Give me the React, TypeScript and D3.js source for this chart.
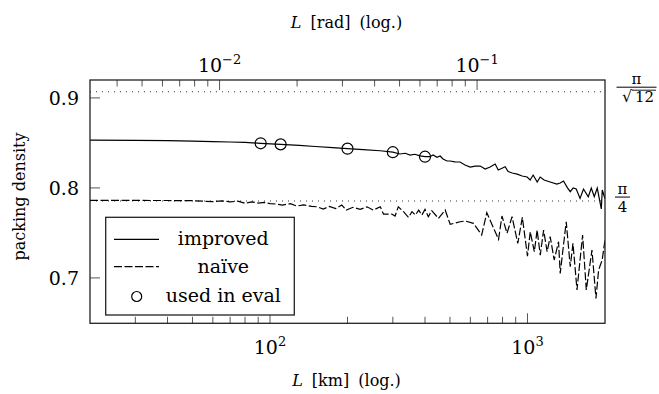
import React from 'react';
import * as d3 from 'd3';

// distance in km and measured packing density
const improvedKm = [20, 30, 40, 50, 60, 70, 80, 92, 110, 130, 150, 175, 200, 230, 268, 300, 320, 335, 350, 365, 383, 400, 418, 430, 445, 458, 470, 487, 500, 523, 547, 572, 599, 626, 655, 685, 716, 749, 770, 800, 819, 841, 872, 912, 953, 997, 1024, 1052, 1091, 1120, 1160, 1225, 1300, 1340, 1380, 1430, 1466, 1505, 1546, 1600, 1650, 1722, 1769, 1817, 1866, 1935, 1952, 2000];
const improvedVal = [0.853, 0.8528, 0.8525, 0.852, 0.8515, 0.851, 0.8505, 0.8496, 0.8484, 0.8472, 0.846, 0.8448, 0.8436, 0.8425, 0.8413, 0.8397, 0.8377, 0.8385, 0.8365, 0.8374, 0.8356, 0.8347, 0.8347, 0.8366, 0.834, 0.8355, 0.8321, 0.8299, 0.8299, 0.829, 0.8288, 0.8254, 0.8232, 0.8243, 0.8243, 0.821, 0.8232, 0.8266, 0.8199, 0.8221, 0.8236, 0.8183, 0.8166, 0.8153, 0.8132, 0.8121, 0.8088, 0.8143, 0.8066, 0.8121, 0.8088, 0.8066, 0.8043, 0.8055, 0.8077, 0.8, 0.7958, 0.8, 0.7988, 0.7884, 0.7988, 0.7902, 0.7999, 0.7902, 0.7999, 0.7766, 0.7977, 0.788];

const naiveKm = [20, 30, 40, 50, 60, 65, 70, 75, 80, 85, 90, 95, 100, 106, 112, 120, 127, 135, 145, 152, 161, 170, 180, 190, 198, 210, 224, 238, 252, 268, 276, 297, 306, 315, 330, 345, 356, 367, 378, 389, 400, 412, 425, 451, 479, 501, 548, 573, 617, 664, 695, 772, 796, 833, 871, 917, 955, 1000, 1025, 1063, 1090, 1121, 1155, 1192, 1225, 1270, 1320, 1340, 1414, 1466, 1502, 1557, 1637, 1692, 1780, 1845, 1889, 1950, 2000];
const naiveVal = [0.7862, 0.7861, 0.786, 0.7858, 0.7847, 0.7856, 0.7845, 0.7853, 0.7829, 0.7845, 0.7832, 0.784, 0.7825, 0.7821, 0.781, 0.7825, 0.7799, 0.7812, 0.7795, 0.7791, 0.7766, 0.7795, 0.777, 0.781, 0.7754, 0.7785, 0.7762, 0.779, 0.7754, 0.7791, 0.771, 0.771, 0.7688, 0.7791, 0.7736, 0.7673, 0.7736, 0.7699, 0.7754, 0.7699, 0.7762, 0.768, 0.7747, 0.7662, 0.7754, 0.7596, 0.7624, 0.7632, 0.7607, 0.7477, 0.7724, 0.7429, 0.7688, 0.7496, 0.768, 0.7384, 0.7673, 0.7243, 0.7513, 0.7291, 0.7532, 0.7254, 0.7532, 0.7291, 0.7458, 0.7199, 0.7402, 0.7051, 0.7624, 0.7124, 0.7384, 0.6866, 0.7477, 0.6866, 0.731, 0.6773, 0.7088, 0.7199, 0.7421];

const evalKm = [92, 110, 200, 300, 400];
const evalVal = [0.8496, 0.8484, 0.8436, 0.8397, 0.8347];

const yTicks = [0.7, 0.8, 0.9];
const kmMajor = [100, 1000];
const kmMinor = [30, 40, 50, 60, 70, 80, 90, 200, 300, 400, 500, 600, 700, 800, 900];
const radMajor = [0.01, 0.1];
const radMinor = [0.004, 0.005, 0.006, 0.007, 0.008, 0.009, 0.02, 0.03, 0.04, 0.05, 0.06, 0.07, 0.08, 0.09];
const earthRadius = 6371;
const hexDensity = Math.PI / Math.sqrt(12);
const squareDensity = Math.PI / 4;

const FONT = "'DejaVu Serif', 'Liberation Serif', serif";

const PowerLabel = ({ x, y, exp }: { x: number; y: number; exp: number }) => (
  <text x={x} y={y} textAnchor="middle" style={{ fontFamily: FONT, fontSize: 19 }}>
    10
    <tspan dy={-8} style={{ fontSize: 13 }}>{exp < 0 ? '\u2212' + Math.abs(exp) : exp}</tspan>
  </text>
);

export default function App() {
  const width = 659;
  const height = 394;
  const left = 90, right = 605, top = 80, bottom = 323.3;

  const x = d3.scaleLog().domain([20, 2000]).range([left, right]);
  const xTop = d3.scaleLog().domain([20 / earthRadius, 2000 / earthRadius]).range([left, right]);
  const y = d3.scaleLinear().domain([0.6496, 0.9199]).range([bottom, top]);

  const line = d3.line<[number, number]>()
    .x(d => x(d[0]))
    .y(d => y(d[1]));

  const improved = improvedKm.map((k, i) => [k, improvedVal[i]] as [number, number]);
  const naive = naiveKm.map((k, i) => [k, naiveVal[i]] as [number, number]);

  const tickColor = '#555';
  const txt = (size: number, extra: React.CSSProperties = {}) => ({ fontFamily: FONT, fontSize: size, ...extra });

  return (
    <svg width={width} height={height} style={{ position: 'absolute', left: 0, top: 0, background: '#fff' }}>
      <defs>
        <clipPath id="plot">
          <rect x={left} y={top} width={right - left} height={bottom - top} />
        </clipPath>
      </defs>

      {/* reference densities */}
      {[hexDensity, squareDensity].map(v => (
        <line key={v} x1={left} x2={right} y1={y(v)} y2={y(v)}
          stroke="#333" strokeWidth={1.1} strokeDasharray="1 5" />
      ))}

      <g clipPath="url(#plot)">
        <path d={line(improved) ?? ''} fill="none" stroke="#000" strokeWidth={1.2} />
        <path d={line(naive) ?? ''} fill="none" stroke="#000" strokeWidth={1.2} strokeDasharray="8 2.5" />
        {evalKm.map((k, i) => (
          <circle key={k} cx={x(k)} cy={y(evalVal[i])} r={5.5} fill="none" stroke="#000" strokeWidth={1.2} />
        ))}
      </g>

      {/* bottom ticks */}
      {kmMajor.map(v => (
        <line key={'bM' + v} x1={x(v)} x2={x(v)} y1={bottom} y2={bottom - 10} stroke={tickColor} strokeWidth={1} />
      ))}
      {kmMinor.map(v => (
        <line key={'bm' + v} x1={x(v)} x2={x(v)} y1={bottom} y2={bottom - 6.5} stroke={tickColor} strokeWidth={1} />
      ))}
      {/* top ticks */}
      {radMajor.map(v => (
        <line key={'tM' + v} x1={xTop(v)} x2={xTop(v)} y1={top} y2={top + 10} stroke={tickColor} strokeWidth={1} />
      ))}
      {radMinor.map(v => (
        <line key={'tm' + v} x1={xTop(v)} x2={xTop(v)} y1={top} y2={top + 6.5} stroke={tickColor} strokeWidth={1} />
      ))}
      {/* left ticks */}
      {yTicks.map(v => (
        <line key={'l' + v} x1={left} x2={left + 10} y1={y(v)} y2={y(v)} stroke={tickColor} strokeWidth={1} />
      ))}

      <rect x={left} y={top} width={right - left} height={bottom - top} fill="none" stroke="#222" strokeWidth={1.3} />

      {/* tick labels */}
      {kmMajor.map(v => (
        <PowerLabel key={'bl' + v} x={x(v)} y={354} exp={Math.round(Math.log10(v))} />
      ))}
      {radMajor.map(v => (
        <PowerLabel key={'tl' + v} x={xTop(v)} y={72} exp={Math.round(Math.log10(v))} />
      ))}
      {yTicks.map(v => (
        <text key={'yl' + v} x={79} y={y(v) + 7} textAnchor="end" style={txt(19)}>
          {v.toFixed(1)}
        </text>
      ))}

      {/* axis labels */}
      <text x={346.5} y={386} textAnchor="middle" style={txt(16, { wordSpacing: 4 })}>
        <tspan fontStyle="italic">L</tspan> [km] (log.)
      </text>
      <text x={346.5} y={28} textAnchor="middle" style={txt(16, { wordSpacing: 4 })}>
        <tspan fontStyle="italic">L</tspan> [rad] (log.)
      </text>
      <text transform="translate(25,196.5) rotate(-90)" textAnchor="middle" style={txt(16)}>
        packing density
      </text>

      {/* right-side fraction labels */}
      <g>
        <text x={636.5} y={y(hexDensity) - 7.5} textAnchor="middle" style={txt(15)}>π</text>
        <line x1={616.5} x2={656.5} y1={y(hexDensity) - 4.5} y2={y(hexDensity) - 4.5} stroke="#000" strokeWidth={1} />
        <text x={627} y={y(hexDensity) + 10} textAnchor="middle" style={txt(16)}>√</text>
        <line x1={632} x2={656} y1={y(hexDensity) - 1.5} y2={y(hexDensity) - 1.5} stroke="#000" strokeWidth={0.9} />
        <text x={644.5} y={y(hexDensity) + 10} textAnchor="middle" style={txt(15)}>12</text>

        <text x={622.5} y={y(squareDensity) - 7} textAnchor="middle" style={txt(15)}>π</text>
        <line x1={615} x2={630} y1={y(squareDensity) - 4} y2={y(squareDensity) - 4} stroke="#000" strokeWidth={1} />
        <text x={622.5} y={y(squareDensity) + 11} textAnchor="middle" style={txt(15)}>4</text>
      </g>

      {/* legend */}
      <g>
        <rect x={105.7} y={217.3} width={188.6} height={97.7} fill="#fff" stroke="#222" strokeWidth={1.3} />
        <line x1={114} x2={159} y1={239.3} y2={239.3} stroke="#000" strokeWidth={1.2} />
        <text x={223.3} y={245} textAnchor="middle" style={txt(19)}>improved</text>
        <line x1={114} x2={159} y1={266.7} y2={266.7} stroke="#000" strokeWidth={1.2} strokeDasharray="8 2.5" />
        <text x={223.3} y={272.5} textAnchor="middle" style={txt(19)}>naïve</text>
        <circle cx={136.7} cy={296.5} r={5} fill="none" stroke="#000" strokeWidth={1.2} />
        <text x={223.3} y={302} textAnchor="middle" style={txt(19)}>used in eval</text>
      </g>
    </svg>
  );
}
